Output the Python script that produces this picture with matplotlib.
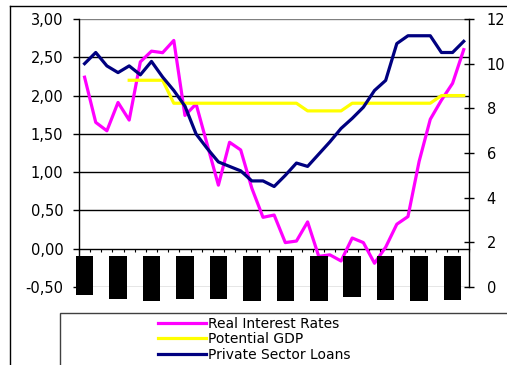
import matplotlib
matplotlib.use("Agg")
import matplotlib.pyplot as plt
from matplotlib.lines import Line2D
from matplotlib.patches import Rectangle
import numpy as np

plt.rcParams['font.family'] = ['DejaVu Sans']

# Quarterly observations
real_rates = [2.24, 1.65, 1.54, 1.91, 1.68, 2.44, 2.58, 2.56, 2.72, 1.74,
              1.89, 1.36, 0.83, 1.39, 1.29, 0.79, 0.41, 0.44, 0.08, 0.10,
              0.35, -0.10, -0.08, -0.16, 0.14, 0.08, -0.19, 0.02, 0.32, 0.42,
              1.14, 1.69, 1.94, 2.16, 2.60]
potential_gdp = [None, None, None, None, 2.2, 2.2, 2.2, 2.2, 1.9, 1.9,
                 1.9, 1.9, 1.9, 1.9, 1.9, 1.9, 1.9, 1.9, 1.9, 1.9,
                 1.8, 1.8, 1.8, 1.8, 1.9, 1.9, 1.9, 1.9, 1.9, 1.9,
                 1.9, 1.9, 2.0, 2.0, 2.0]
private_loans = [10.0, 10.5, 9.9, 9.6, 9.9, 9.5, 10.1, 9.4, 8.8, 8.1,
                 6.85, 6.2, 5.6, 5.4, 5.2, 4.75, 4.75, 4.5, 5.0, 5.55,
                 5.4, 5.95, 6.5, 7.1, 7.55, 8.05, 8.8, 9.25, 10.9, 11.25,
                 11.25, 11.25, 10.5, 10.5, 11.0]

# Category-label blocks along the bottom (one per year)
label_slots = [0, 3, 6, 9, 12, 15, 18, 21, 24, 27, 30, 33]
label_top = -0.09
label_bottoms = [-0.61, -0.655, -0.68, -0.655, -0.655, -0.68, -0.68, -0.68,
                 -0.625, -0.67, -0.68, -0.67]

left_ticks = [-0.5, 0.0, 0.5, 1.0, 1.5, 2.0, 2.5, 3.0]
right_ticks = [0, 2, 4, 6, 8, 10, 12]

series_labels = ["Real Interest Rates", "Potential GDP", "Private Sector Loans"]
colors = ["#FF00FF", "#FFFF00", "#000080"]

W, H = 507, 365
fig = plt.figure(figsize=(W / 100, H / 100), dpi=100)
fig.patch.set_facecolor("white")

rect = [79 / W, 78 / H, 390.3 / W, 268 / H]
ax = fig.add_axes(rect)
n = len(real_rates)
x = np.arange(n)
gdp = np.array([np.nan if v is None else v for v in potential_gdp], dtype=float)

ax.set_xlim(-0.5, n - 0.5)
ax.set_ylim(-0.5, 3.0)

# gridlines
for v in left_ticks:
    if v == 0.0:
        continue
    c = "#808080" if v in (-0.5, 3.0) else "black"
    ax.axhline(v, color=c, lw=1.0, zorder=1)

l1, = ax.plot(x, real_rates, color=colors[0], lw=2.3, zorder=3)
l2, = ax.plot(x, gdp, color=colors[1], lw=2.3, zorder=3)

for s in ("top", "right"):
    ax.spines[s].set_visible(False)
ax.spines["left"].set_color("black")
ax.spines["left"].set_linewidth(1.0)
ax.spines["bottom"].set_position(("data", 0))
ax.spines["bottom"].set_linewidth(1.0)
ax.set_xticks(np.arange(-0.5, n, 1.0))
ax.set_xticklabels([])
ax.tick_params(axis="x", direction="out", length=2.5, width=0.8)
ax.set_yticks(left_ticks)
ax.set_yticklabels([f"{v:.2f}".replace(".", ",") for v in left_ticks])
ax.tick_params(axis="y", direction="out", length=4.3, width=1.0, pad=7,
               labelsize=10.5, colors="black")
ax.patch.set_visible(False)

ax2 = ax.twinx()
ax2.set_ylim(0, 12)
l3, = ax2.plot(x, private_loans, color=colors[2], lw=2.3, zorder=3)
for s in ("top", "left", "bottom"):
    ax2.spines[s].set_visible(False)
ax2.spines["right"].set_linewidth(1.0)
ax2.set_yticks(right_ticks)
ax2.set_yticklabels([str(v) for v in right_ticks])
ax2.tick_params(axis="y", direction="inout", length=7, width=1.0, pad=9,
                labelsize=10.5)

# overlay with the category-label blocks
ax3 = fig.add_axes(rect, sharex=ax)
ax3.set_ylim(-0.5, 3.0)
ax3.axis("off")
ax3.bar(label_slots, np.array(label_bottoms) - label_top, bottom=label_top,
        width=1.57, color="black", clip_on=False, zorder=5)

# outer chart frame
fig.add_artist(Line2D([10 / W, 10 / W], [0, (H - 6) / H], color="black",
                      lw=1.0, transform=fig.transFigure))
fig.add_artist(Line2D([10 / W, 1.0], [(H - 6) / H, (H - 6) / H], color="black",
                      lw=1.0, transform=fig.transFigure))

# legend box
fig.add_artist(Rectangle((60 / W, -0.1), 1.0, (H - 313) / H + 0.1,
                         transform=fig.transFigure, fill=False,
                         edgecolor="#404040", lw=1.0))
fig.legend([l1, l2, l3], series_labels, loc="upper left",
           bbox_to_anchor=(158 / W, (H - 316.5) / H), frameon=False,
           fontsize=10, handlelength=3.45, handletextpad=0.15,
           labelspacing=0.12, borderpad=0.0, borderaxespad=0.0)

fig.savefig("out.png", dpi=100, facecolor="white")
